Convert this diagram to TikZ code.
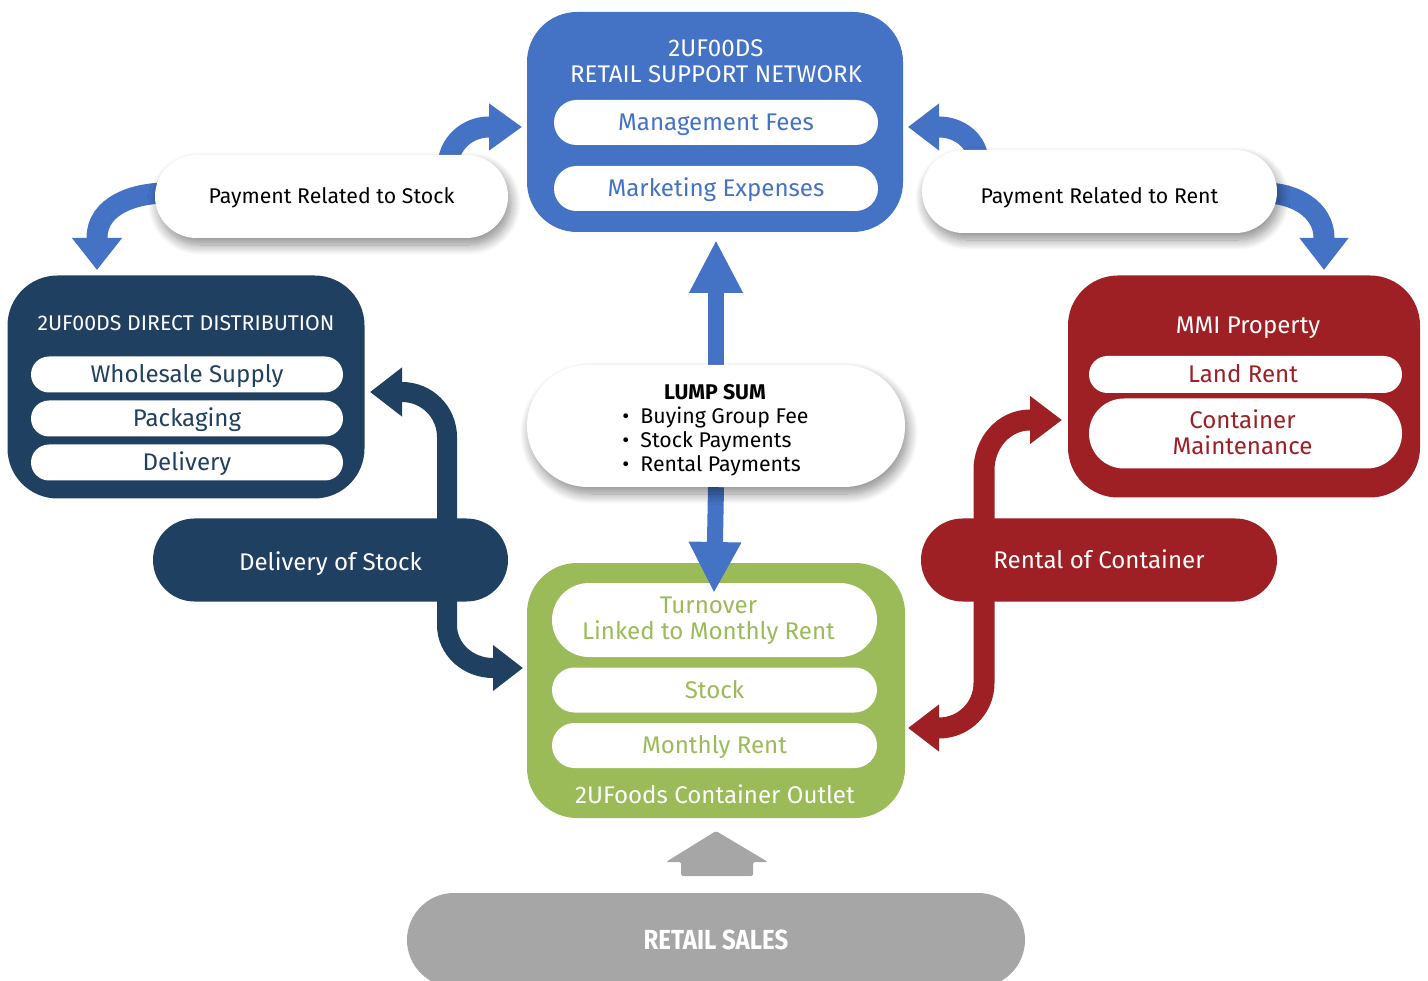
\documentclass[tikz,border=0pt]{standalone}
\usepackage{fontspec}
\setmainfont{Fira Sans}
\usetikzlibrary{arrows.meta,shadows.blur}
\definecolor{cblue}{HTML}{4472C4}
\definecolor{cnavy}{RGB}{32,64,98}
\definecolor{cgreen}{HTML}{9BBB59}
\definecolor{cred}{RGB}{158,31,36}
\definecolor{cgray}{HTML}{A6A6A6}
\pgfdeclarelayer{front}
\pgfsetlayers{main,front}
\newcommand\fsS{\fontsize{21.3}{24.3}\selectfont}
\newcommand\fsM{\fontsize{24.1}{26}\selectfont}
\newcommand\fsT{\fontsize{21.3}{24}\selectfont}
\begin{document}
\begin{tikzpicture}[x=1pt,y=-1pt,
  bigbox/.style={rounded corners=50pt, inner sep=0pt, draw=none},
  capM/.style={text height=16.6pt, text depth=0pt},
  capS/.style={text height=14.7pt, text depth=0pt},
  inpill/.style={fill=white, inner sep=0pt, font=\fsM, align=center, capM},
  shpill/.style={fill=white, inner sep=0pt, font=\fsS, align=center, capS,
    blur shadow={shadow xshift=3pt, shadow yshift=-7pt, shadow blur radius=10pt, shadow blur steps=14, shadow opacity=45}},
  colpill/.style={inner sep=0pt, font=\fsM, text=white, capM},
  ttl/.style={text=white, font=\fsM, align=center, inner sep=0pt, capM},
  shaft/.style={line width=#1},
]
\useasboundingbox (0,0) rectangle (1428,981);

% ---- main boxes ----
\node[bigbox, fill=cblue, minimum width=376pt, minimum height=220pt] (rsn) at (715,122) {};
\node[ttl, font=\fontsize{24.1}{26.7}\selectfont, text height=43.3pt] (rsnT) at (716,61.2) {2UF00DS\\RETAIL SUPPORT NETWORK};
\node[inpill, text=cblue, minimum width=324pt, minimum height=45pt, rounded corners=22.5pt] (mgmt) at (716,122.5) {Management Fees};
\node[inpill, text=cblue, minimum width=324pt, minimum height=45pt, rounded corners=22.5pt] (mkt) at (716,188.5) {Marketing Expenses};

\node[bigbox, fill=cnavy, minimum width=357pt, minimum height=223pt] (dd) at (186,387) {};
\node[ttl, font=\fsT, capS] (ddT) at (186,323.5) {2UF00DS DIRECT DISTRIBUTION};
\node[inpill, text=cnavy, minimum width=312pt, minimum height=36pt, rounded corners=18pt] (whs) at (187,374.5) {Wholesale Supply};
\node[inpill, text=cnavy, minimum width=312pt, minimum height=36pt, rounded corners=18pt] (pkg) at (187,418.5) {Packaging};
\node[inpill, text=cnavy, minimum width=312pt, minimum height=36pt, rounded corners=18pt] (dlv) at (187,462.5) {Delivery};

\node[bigbox, fill=cred, minimum width=352pt, minimum height=222pt] (mmi) at (1244,386.5) {};
\node[ttl] (mmiT) at (1248,325.7) {MMI Property};
\node[inpill, text=cred, minimum width=313pt, minimum height=37pt, rounded corners=18.5pt] (land) at (1245.5,374.5) {\hspace*{-5pt}Land Rent};
\node[inpill, text=cred, minimum width=313pt, minimum height=70pt, rounded corners=35pt, text height=42.6pt] (cmaint) at (1245.5,433.5) {Container\hspace*{6pt}\\Maintenance\hspace*{6pt}};

\node[bigbox, fill=cgreen, minimum width=378pt, minimum height=255pt] (outlet) at (716,690.5) {};
\node[inpill, text=cgreen, minimum width=325pt, minimum height=74pt, rounded corners=37pt, text height=42.6pt] (turn) at (714.5,620)
  {\raisebox{2pt}{Turnover}\hspace*{12pt}\\\raisebox{2pt}{Linked to Monthly Rent}\hspace*{12pt}};
\node[inpill, text=cgreen, minimum width=325pt, minimum height=45pt, rounded corners=22.5pt] (stock) at (714.5,690) {Stock};
\node[inpill, text=cgreen, minimum width=325pt, minimum height=45pt, rounded corners=22.5pt] (mrent) at (714.5,745.5) {Monthly Rent};
\node[ttl] (outletT) at (715,795) {2UFoods Container Outlet};

\node[fill=cgray, inner sep=0pt, minimum width=618pt, minimum height=94pt, rounded corners=47pt] (retail) at (716,940)
  {\fontsize{27.6}{30}\selectfont\color{white}\scalebox{0.87}[1]{\bfseries RETAIL SALES}};
\fill[cgray, rounded corners=1.5pt] (716,831) -- (768,862) -- (753,862) -- (753,876) -- (681,876) -- (681,862) -- (666,862) -- cycle;

% ---- front pills ----
\begin{pgfonlayer}{front}
\node[shpill, minimum width=353pt, minimum height=83pt, rounded corners=41.5pt] (pstock) at (331.5,196.5) {Payment Related to Stock};
\node[shpill, minimum width=355pt, minimum height=83pt, rounded corners=41.5pt] (prent) at (1099.5,191.5) {\raisebox{-4.3pt}{Payment Related to Rent}};
\node[shpill, minimum width=378pt, minimum height=122pt, rounded corners=61pt, text height=0pt] (lump) at (716,426) {};
\node[font=\fsS, inner sep=0pt] (lumpT) at (715,392) {\bfseries LUMP SUM};
\node[font=\fsS, align=left, inner sep=0pt] (lumpL) at (715.5,441.5)
  {\makebox[18pt][l]{•}Buying Group Fee\\\makebox[18pt][l]{•}Stock Payments\\\makebox[18pt][l]{•}Rental Payments};
\node[colpill, fill=cnavy, minimum width=355pt, minimum height=83pt, rounded corners=41.5pt] (dstock) at (330.5,560) {\raisebox{-2.5pt}{Delivery of Stock}};
\node[colpill, fill=cred, minimum width=356pt, minimum height=83pt, rounded corners=41.5pt] (rcont) at (1099,560) {Rental of Container};
\end{pgfonlayer}

% ---- connector end points ----
\coordinate (t1) at (716,240);
\coordinate (t2) at (714,593);
\coordinate (t3) at (522,127);
\coordinate (t4) at (97,270);
\coordinate (t5) at (908,127);
\coordinate (t6) at (1324,270);
\coordinate (t7) at (370,392);
\coordinate (t8) at (523,668);
\coordinate (t9) at (1062,420);
\coordinate (t10) at (908,728);

% ---- connectors ----
\draw[cblue, shaft=16pt, -{Triangle[width=50pt,length=53pt]}] (lump.north) -- (t1);
\draw[cblue, shaft=16pt, -{Triangle[width=49pt,length=51pt]}] (lump.south) -- (t2);

\draw[cblue, shaft=21pt, -{Triangle[width=45pt,length=33pt]}]
  ([xshift=116.5pt,yshift=-12pt]pstock.north) to[out=90,in=180] (489,127) -- (t3);
\draw[cblue, shaft=21pt, -{Triangle[width=48pt,length=32pt]}]
  ([xshift=12pt,yshift=3.5pt]pstock.west) to[out=180,in=90] (97,238) -- (t4);
\draw[cblue, shaft=21pt, -{Triangle[width=45pt,length=31pt]}]
  ([xshift=-121.5pt,yshift=-12pt]prent.north) to[out=90,in=0] (939,127) -- (t5);
\draw[cblue, shaft=21pt, -{Triangle[width=47pt,length=32pt]}]
  ([xshift=-12pt,yshift=-1.5pt]prent.east) to[out=0,in=90] (1324,238) -- (t6);

\draw[cnavy, shaft=20pt, -{Triangle[width=47pt,length=32pt]}]
  ([xshift=116.5pt,yshift=-12pt]dstock.north) -- (447,437) to[out=90,in=0] (402,392) -- (t7);
\draw[cnavy, shaft=20pt, -{Triangle[width=44pt,length=30pt]}]
  ([xshift=116.5pt,yshift=12pt]dstock.south) -- (447,625) to[out=-90,in=180] (493,668) -- (t8);

\draw[cred, shaft=21pt, -{Triangle[width=46pt,length=32pt]}]
  ([xshift=-115pt,yshift=-12pt]rcont.north) -- (984,470) to[out=90,in=180] (1030,420) -- (t9);
\draw[cred, shaft=21pt, -{Triangle[width=45pt,length=31pt]}]
  ([xshift=-115pt,yshift=12pt]rcont.south) -- (984,683) to[out=-90,in=0] (939,728) -- (t10);
\end{tikzpicture}
\end{document}
